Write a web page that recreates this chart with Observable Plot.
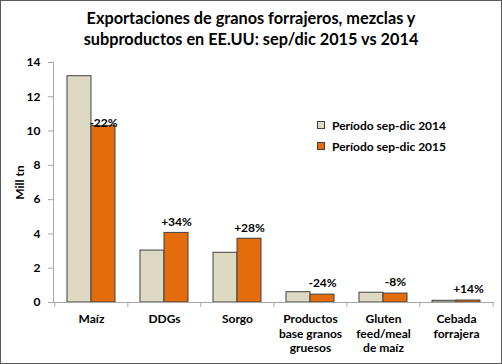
<!DOCTYPE html>
<html><head><meta charset="utf-8">
<script src="https://cdn.jsdelivr.net/npm/d3@7"></script>
<script src="https://cdn.jsdelivr.net/npm/@observablehq/plot@0.6"></script>
<style>
body{margin:0;background:#fff;}
#wrap{position:relative;width:502px;height:364px;overflow:hidden;font-family:Lato,sans-serif;background:#fff;}
#title{position:absolute;left:0;top:7px;width:502px;text-align:center;font-weight:bold;font-size:16.3px;line-height:21px;color:#000;}
#border{position:absolute;left:0;top:0;width:500px;height:362px;border:1px solid #595959;pointer-events:none;}
#legend{position:absolute;left:317px;top:114.5px;font-size:12px;font-weight:bold;color:#000;}
.row{display:flex;align-items:center;height:21px;}
.sw{width:8px;height:8px;border:1px solid #404040;margin-right:7px;box-sizing:border-box;}
#chart{position:absolute;left:0;top:52px;}
</style></head><body>
<div id="wrap">
<div id="chart"></div>
<div id="title">Exportaciones de granos forrajeros, mezclas y<br>subproductos en EE.UU: sep/dic 2015 vs 2014</div>
<div id="legend"></div>
<div id="border"></div>
</div>
<script>
const categories = ["Maíz","DDGs","Sorgo","Productos base granos gruesos","Gluten feed/meal de maíz","Cebada forrajera"];
const tickLabels = ["Maíz","DDGs","Sorgo","Productos\nbase granos\ngruesos","Gluten\nfeed/meal\nde maíz","Cebada\nforrajera"];
const series = ["Período sep-dic 2014","Período sep-dic 2015"];
const values2014 = [13.2, 3.03, 2.9, 0.6, 0.57, 0.1];
const values2015 = [10.3, 4.06, 3.72, 0.46, 0.52, 0.114];
const changeLabels = ["-22%","+34%","+28%","-24%","-8%","+14%"];
const yTicks = [0,2,4,6,8,10,12,14];
const colors = ["#DDD9C3","#E46C0A"];

const rows = categories.map((c,i)=>({cat:c, v14:values2014[i], v15:values2015[i], change:changeLabels[i]}));

const W = 502, H = 312, ML = 53, MR = 9;
const n = categories.length;
const step = (W - ML - MR) / n;
const pad = 0.345;
const half = step * (1 - pad) / 2;
const axisColor = "#a6a6a6";

const plot = Plot.plot({
  width: W, height: H,
  marginLeft: ML, marginRight: MR, marginTop: 10, marginBottom: 62,
  style: {fontFamily: "Lato, sans-serif", fontSize: "12px", fontWeight: "bold", color: "#000", background: "transparent"},
  x: {domain: categories, paddingInner: pad, paddingOuter: pad / 2},
  y: {domain: [0, 14]},
  marks: [
    Plot.barY(rows, {x: "cat", y: "v14", fill: colors[0], stroke: "#404040", strokeWidth: 1, insetRight: half}),
    Plot.barY(rows, {x: "cat", y: "v15", fill: colors[1], stroke: "#404040", strokeWidth: 1, insetLeft: half}),
    Plot.frame({anchor: "left", stroke: axisColor}),
    Plot.frame({anchor: "bottom", stroke: axisColor}),
    Plot.ruleX(categories, {x: d => d, dx: -step / 2, y1: 0, y2: 0, insetBottom: -5, stroke: axisColor}),
    Plot.ruleX(categories.slice(-1), {x: d => d, dx: step / 2, y1: 0, y2: 0, insetBottom: -5, stroke: axisColor}),
    Plot.axisX({tickSize: 0, tickPadding: 10, tickFormat: d => tickLabels[categories.indexOf(d)], lineHeight: 1.22, label: null, fill: "#000"}),
    Plot.axisY({ticks: yTicks, tickSize: 5, tickPadding: 8, stroke: axisColor, fill: "#000", label: "Mill tn", labelAnchor: "center", labelOffset: 38, labelArrow: "none"}),
    Plot.text(rows.slice(0, 1), {x: "cat", y: "v15", text: "change", dx: half / 2, dy: -3, fill: "#000"}),
    Plot.text(rows.slice(1), {x: "cat", y: "v15", text: "change", dx: half / 2, dy: -11, fill: "#000"})
  ]
});
document.getElementById("chart").appendChild(plot);

const legend = document.getElementById("legend");
series.forEach((s, i) => {
  const row = document.createElement("div");
  row.className = "row";
  const sw = document.createElement("span");
  sw.className = "sw";
  sw.style.background = colors[i];
  const t = document.createElement("span");
  t.textContent = s;
  row.appendChild(sw); row.appendChild(t);
  legend.appendChild(row);
});
</script>
</body></html>
